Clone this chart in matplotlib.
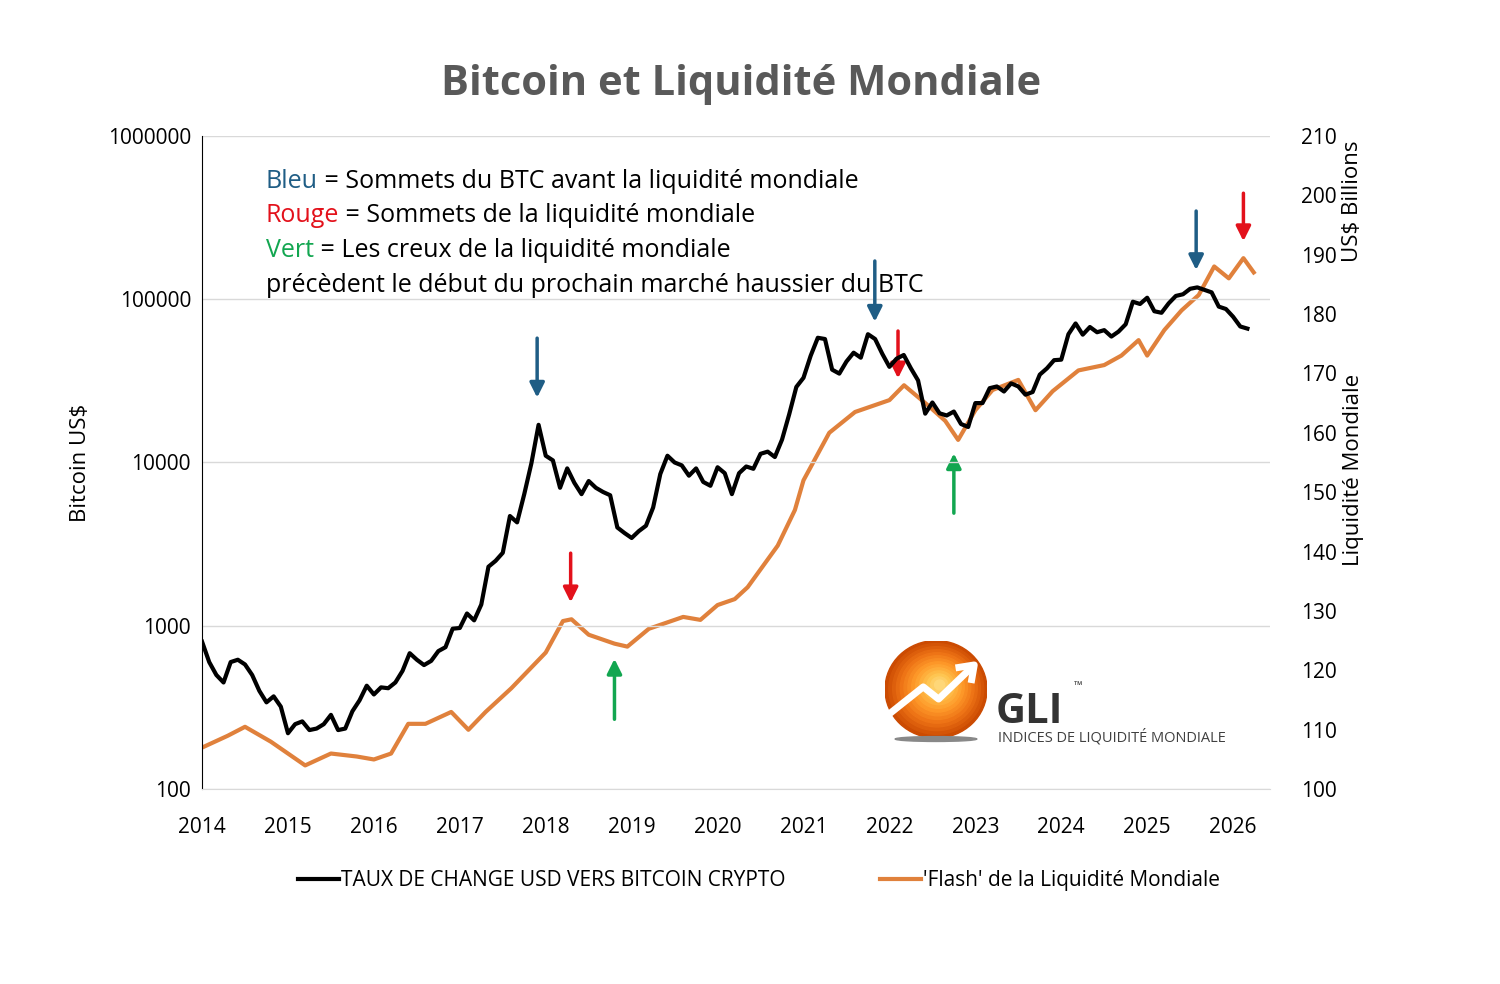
import matplotlib.pyplot as plt
import numpy as np
from matplotlib.patches import Circle, Ellipse

plt.rcParams['font.family'] = ['Open Sans', 'DejaVu Sans']

# monthly bitcoin price (USD), Jan 2014 .. Mar 2026
btc_vals = [
    800, 600, 500, 450, 600, 620, 580, 500, 400, 340, 370, 320,
    220, 250, 260, 230, 235, 250, 285, 230, 235, 300, 350, 430,
    380, 420, 415, 450, 530, 680, 620, 575, 610, 700, 740, 960,
    970, 1190, 1080, 1350, 2300, 2500, 2800, 4700, 4300, 6400, 9900, 17000,
    11000, 10300, 7000, 9200, 7500, 6400, 7700, 7000, 6600, 6300, 4000, 3700,
    3450, 3800, 4100, 5300, 8500, 11000, 10000, 9600, 8300, 9200, 7600, 7200,
    9350, 8600, 6400, 8600, 9450, 9150, 11300, 11650, 10800, 13800, 19700, 29000,
    33000, 45000, 58000, 57000, 37000, 35000, 41500, 47000, 43800, 61000, 57000, 46300,
    38500, 43200, 45500, 37700, 31800, 19900, 23300, 20000, 19400, 20500, 17200, 16500,
    23100, 23100, 28500, 29200, 27200, 30500, 29200, 26000, 27000, 34500, 37700, 42300,
    42600, 61000, 71000, 60600, 67500, 62700, 64600, 59000, 63300, 70200, 96400, 93400,
    102000, 84300, 82500, 94200, 104600, 107100, 115700, 118000, 114000, 110000, 90000, 87000,
    78000, 68000, 66000,
]
btc_dates = 2014 + np.arange(len(btc_vals)) / 12

# global liquidity 'flash' (US$ billions)
liq_dates = [2014.0, 2014.3, 2014.5, 2014.8, 2015.0, 2015.2, 2015.5, 2015.8, 2016.0, 2016.2,
             2016.4, 2016.6, 2016.9, 2017.1, 2017.3, 2017.6, 2017.8, 2018.0, 2018.2, 2018.3,
             2018.5, 2018.8, 2018.95, 2019.2, 2019.4, 2019.6, 2019.8, 2020.0, 2020.2, 2020.35,
             2020.5, 2020.7, 2020.9, 2021.0, 2021.3, 2021.6, 2022.0, 2022.17, 2022.45, 2022.65,
             2022.8, 2023.0, 2023.2, 2023.5, 2023.7, 2023.9, 2024.2, 2024.5, 2024.7, 2024.9,
             2025.0, 2025.2, 2025.4, 2025.6, 2025.78, 2025.95, 2026.12, 2026.24]
liq_vals = [107, 109, 110.5, 108, 106, 104, 106, 105.5, 105, 106,
            111, 111, 113, 110, 113, 117, 120, 123, 128.3, 128.6,
            126, 124.5, 124, 127, 128, 129, 128.5, 131, 132, 134,
            137, 141, 147, 152, 160, 163.5, 165.5, 168, 164.6, 162,
            158.8, 163.8, 167.2, 168.9, 163.8, 167, 170.5, 171.4, 173, 175.6,
            173, 177.3, 180.6, 183.2, 188, 186, 189.4, 187]

fig = plt.figure(figsize=(15, 9.84), dpi=100)
ax = fig.add_axes([0.1347, 0.198, 0.712, 0.664])
ax2 = ax.twinx()

ax.plot(btc_dates, btc_vals, color='black', lw=3, zorder=3)
ax2.plot(liq_dates, liq_vals, color='#e0813c', lw=3)
ax.set_zorder(ax2.get_zorder() + 1)
ax.patch.set_visible(False)

ax.set_yscale('log')
ax.set_ylim(100, 1e6)
ax.set_yticks([100, 1000, 10000, 100000, 1000000])
ax.set_yticklabels(['100', '1000', '10000', '100000', '1000000'])
ax.minorticks_off()
ax.set_xlim(2014, 2026.43)
ax.set_xticks(range(2014, 2027))
ax.grid(axis='y', color='#d9d9d9', lw=1)
ax.tick_params(labelsize=15, length=0, pad=8)
ax.tick_params(axis='x', pad=20)
ax.set_ylabel('Bitcoin US$', fontsize=16, labelpad=12)
for s in ['top', 'right']:
    ax.spines[s].set_visible(False)
ax.spines['bottom'].set_color('#d9d9d9')

ax2.set_ylim(100, 210)
ax2.set_yticks(range(100, 211, 10))
ax2.tick_params(labelsize=15, length=0, pad=22)
for s in ax2.spines.values():
    s.set_visible(False)
fig.text(0.902, 0.795, 'US$ Billions', rotation=90, fontsize=16, ha='center', va='center')
fig.text(0.902, 0.522, 'Liquidité Mondiale', rotation=90, fontsize=16, ha='center', va='center')

fig.suptitle('Bitcoin et Liquidité Mondiale', x=0.494, y=0.935, fontsize=30,
             fontweight='bold', color='#595959')

# explanatory text
tx = 0.177
lines = [('Bleu', '#1f5d85', ' = Sommets du BTC avant la liquidité mondiale'),
         ('Rouge', '#e3111b', ' = Sommets de la liquidité mondiale'),
         ('Vert', '#12a650', ' = Les creux de la liquidité mondiale')]
fig.canvas.draw()
for i, (w, c, rest) in enumerate(lines):
    y = 0.816 - i * 0.0355
    t = fig.text(tx, y, w, color=c, fontsize=18, va='center')
    bb = t.get_window_extent(renderer=fig.canvas.get_renderer())
    fig.text(bb.x1 / fig.bbox.width, y, rest, fontsize=18, va='center')
fig.text(tx, 0.710, 'précèdent le début du prochain marché haussier du BTC', fontsize=18, va='center')


def arrow(axis, x, y0, y1, color):
    axis.annotate('', xy=(x, y1), xytext=(x, y0),
                  arrowprops=dict(arrowstyle='-|>', color=color, lw=2.5, mutation_scale=22))


arrow(ax, 2017.9, 60000, 24000, '#1f5d85')
arrow(ax, 2021.83, 178000, 70000, '#1f5d85')
arrow(ax, 2025.57, 360000, 145000, '#1f5d85')
arrow(ax2, 2018.29, 140.2, 131, '#e3111b')
arrow(ax2, 2022.1, 177.6, 168.7, '#e3111b')
arrow(ax2, 2026.12, 200.8, 191.8, '#e3111b')
arrow(ax2, 2018.8, 111.3, 122.4, '#12a650')
arrow(ax2, 2022.75, 146, 157, '#12a650')

# GLI logo
lax = fig.add_axes([0.59, 0.245, 0.068, 0.104])
lax.set_xlim(-1, 1)
lax.set_ylim(-1.1, 1)
lax.axis('off')
for r, c in zip(np.linspace(1, 0.1, 14), plt.cm.YlOrBr(np.linspace(0.75, 0.3, 14))):
    lax.add_patch(Circle((0.08 * (1 - r), 0.1 * (1 - r)), r, color=c))
lax.plot([-0.85, -0.25, 0.05, 0.7], [-0.45, 0.05, -0.2, 0.45], color='white', lw=5)
lax.plot([0.45, 0.75, 0.7], [0.45, 0.5, 0.2], color='white', lw=5)
lax.add_patch(Ellipse((0, -1.02), 1.6, 0.1, color='#888888'))
fig.text(0.664, 0.265, 'GLI', fontsize=30, fontweight='bold', color='#333333')
fig.text(0.716, 0.3, '™', fontsize=8, color='#333333')
fig.text(0.665, 0.246, 'INDICES DE LIQUIDITÉ MONDIALE', fontsize=10.5, color='#404040')

# legend
fig.legend(handles=[ax.lines[0], ax2.lines[0]],
           labels=['TAUX DE CHANGE USD VERS BITCOIN CRYPTO', "'Flash' de la Liquidité Mondiale"],
           loc='center', bbox_to_anchor=(0.506, 0.105), ncol=2, frameon=False,
           fontsize=15, handlelength=2, handletextpad=0.1, columnspacing=4.5)

fig.savefig('out.png', dpi=100)
